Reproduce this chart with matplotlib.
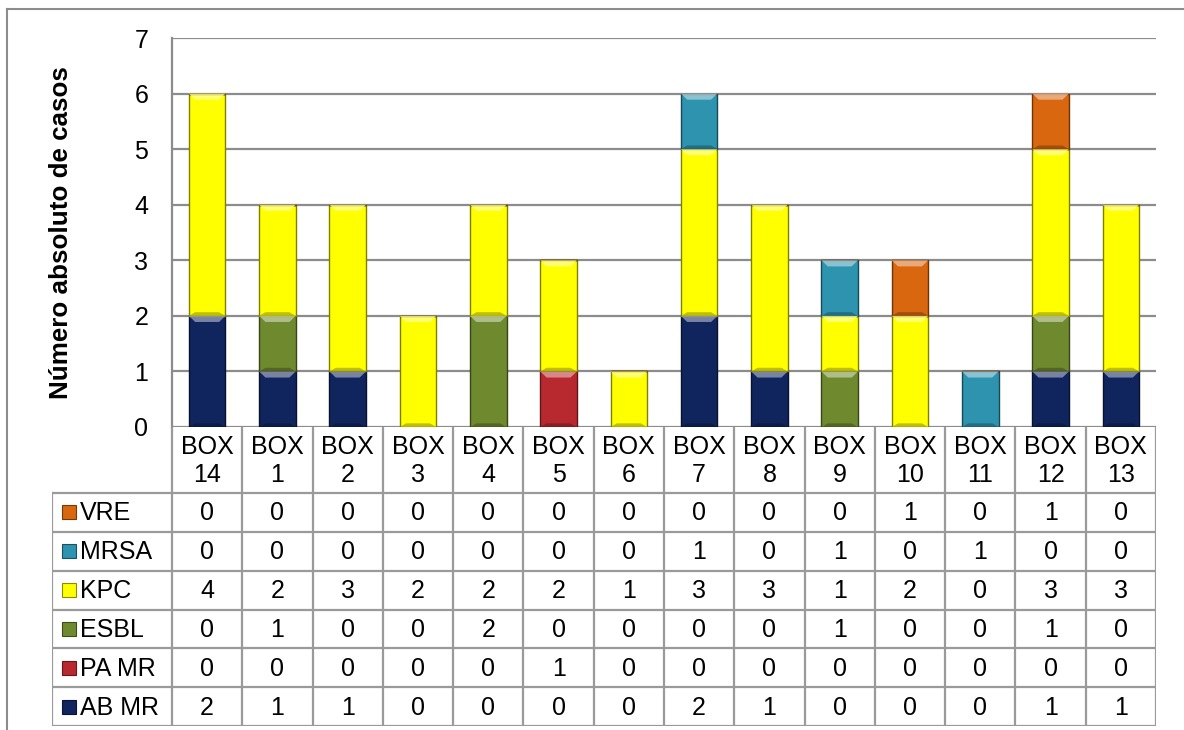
import matplotlib
matplotlib.use("Agg")
import matplotlib.pyplot as plt
import numpy as np
from matplotlib.patches import Polygon, Rectangle
from matplotlib.colors import to_rgb

plt.rcParams['font.family'] = ['Liberation Sans', 'DejaVu Sans']

categories = ["BOX\n14", "BOX\n1", "BOX\n2", "BOX\n3", "BOX\n4", "BOX\n5", "BOX\n6",
              "BOX\n7", "BOX\n8", "BOX\n9", "BOX\n10", "BOX\n11", "BOX\n12", "BOX\n13"]
ab_mr = [2, 1, 1, 0, 0, 0, 0, 2, 1, 0, 0, 0, 1, 1]
pa_mr = [0, 0, 0, 0, 0, 1, 0, 0, 0, 0, 0, 0, 0, 0]
esbl = [0, 1, 0, 0, 2, 0, 0, 0, 0, 1, 0, 0, 1, 0]
kpc = [4, 2, 3, 2, 2, 2, 1, 3, 3, 1, 2, 0, 3, 3]
mrsa = [0, 0, 0, 0, 0, 0, 0, 1, 0, 1, 0, 1, 0, 0]
vre = [0, 0, 0, 0, 0, 0, 0, 0, 0, 0, 1, 0, 1, 0]

series_names = ["AB MR", "PA MR", "ESBL", "KPC", "MRSA", "VRE"]
series_values = [ab_mr, pa_mr, esbl, kpc, mrsa, vre]
series_colors = ["#10245E", "#B8292F", "#6F8A2E", "#FFFF00", "#2D93AE", "#D9670F"]

ylabel = "Número absoluto de casos"
yticks = [0, 1, 2, 3, 4, 5, 6, 7]

FS = 18

W, H = 1184, 730
fig = plt.figure(figsize=(W / 100, H / 100), dpi=100)

def fx(px):
    return px / W

def fy(py):
    return 1 - py / H

# main axes
L, R, T, B = 172, 1156, 38, 427
ax = fig.add_axes([fx(L), fy(B), fx(R - L), (B - T) / H])
n = len(categories)
x = np.arange(n)
ax.set_xlim(-0.5, n - 0.5)
ax.set_ylim(0, 7)
ax.set_yticks(yticks)
ax.set_yticklabels([str(t) for t in yticks], fontsize=FS)
ax.tick_params(axis='y', length=0, pad=17)
ax.set_xticks([])
ax.grid(axis='y', color='#8C8C8C', linewidth=1.6)
ax.set_axisbelow(True)
for s in ['top', 'right', 'bottom']:
    ax.spines[s].set_visible(False)
ax.spines['left'].set_color('#8C8C8C')
ax.spines['left'].set_linewidth(1.6)

bw = 0.52
bottom = np.zeros(n)
for name, vals, col in zip(series_names, series_values, series_colors):
    vals = np.array(vals, dtype=float)
    c = np.array(to_rgb(col))
    dark = c * 0.5
    light = 1 - (1 - c) * 0.45
    ax.bar(x, vals, bw, bottom=bottom, color=col, edgecolor=dark, linewidth=1.0, zorder=3)
    for i in range(n):
        if vals[i] > 0:
            x0 = x[i] - bw / 2
            x1 = x[i] + bw / 2
            top = bottom[i] + vals[i]
            h = 0.11
            d = 0.09
            poly = Polygon([(x0, top), (x1, top), (x1 - d, top - h), (x0 + d, top - h)],
                           closed=True, facecolor=light, edgecolor='none', zorder=4, alpha=0.8)
            ax.add_patch(poly)
            ax.add_patch(Polygon([(x0, bottom[i]), (x1, bottom[i]), (x1 - d, bottom[i] + h * 0.6),
                                  (x0 + d, bottom[i] + h * 0.6)], closed=True,
                                 facecolor=dark, edgecolor='none', zorder=4, alpha=0.5))
    bottom += vals

fig.text(fx(61), fy((B + T) / 2), ylabel, rotation=90, ha='center', va='center',
         fontsize=18.7, fontweight='bold')

# data table axes
TL, TB = 52, 726
HB = 493  # header row bottom
tax = fig.add_axes([fx(TL), fy(TB), fx(R - TL), (TB - B) / H])
unit = (R - L) / n
leg_w = (L - TL) / unit
tax.set_xlim(-0.5 - leg_w, n - 0.5)
tax.set_ylim(TB, B)
tax.axis('off')
gc = '#9A9A9A'
lw = 1.6
# header labels
for i, cat in enumerate(categories):
    tax.text(x[i], (B + HB) / 2 + 1, cat, ha='center', va='center', fontsize=FS, linespacing=1.22)
# vertical lines
for i in range(n + 1):
    tax.plot([i - 0.5, i - 0.5], [B, TB], color=gc, lw=lw, solid_capstyle='butt')
tax.plot([-0.5 - leg_w, -0.5 - leg_w], [HB, TB], color=gc, lw=lw)
row_h = (TB - HB) / len(series_names)
rows = list(zip(series_names, series_values, series_colors))[::-1]
for r in range(len(rows) + 1):
    yy = HB + r * row_h
    tax.plot([-0.5 - leg_w, n - 0.5], [yy, yy], color=gc, lw=lw)
for r, (name, vals, col) in enumerate(rows):
    yc = HB + (r + 0.5) * row_h
    for i in range(n):
        tax.text(x[i], yc + 1, str(vals[i]), ha='center', va='center', fontsize=FS)
    ks = 14 / unit
    kx = -0.5 - leg_w + 10 / unit
    c = np.array(to_rgb(col))
    tax.add_patch(Rectangle((kx, yc - 7), ks, 14, facecolor=col, edgecolor=c * 0.55, lw=0.8))
    tax.text(kx + ks + 4 / unit, yc + 1, name, ha='left', va='center', fontsize=FS)

# outer frame lines
fig.add_artist(plt.Line2D([fx(7), fx(7)], [fy(9), 0], color='#8C8C8C', lw=1.5))
fig.add_artist(plt.Line2D([fx(7), 1], [fy(9), fy(9)], color='#8C8C8C', lw=1.5))

fig.savefig("out.png", dpi=100)
